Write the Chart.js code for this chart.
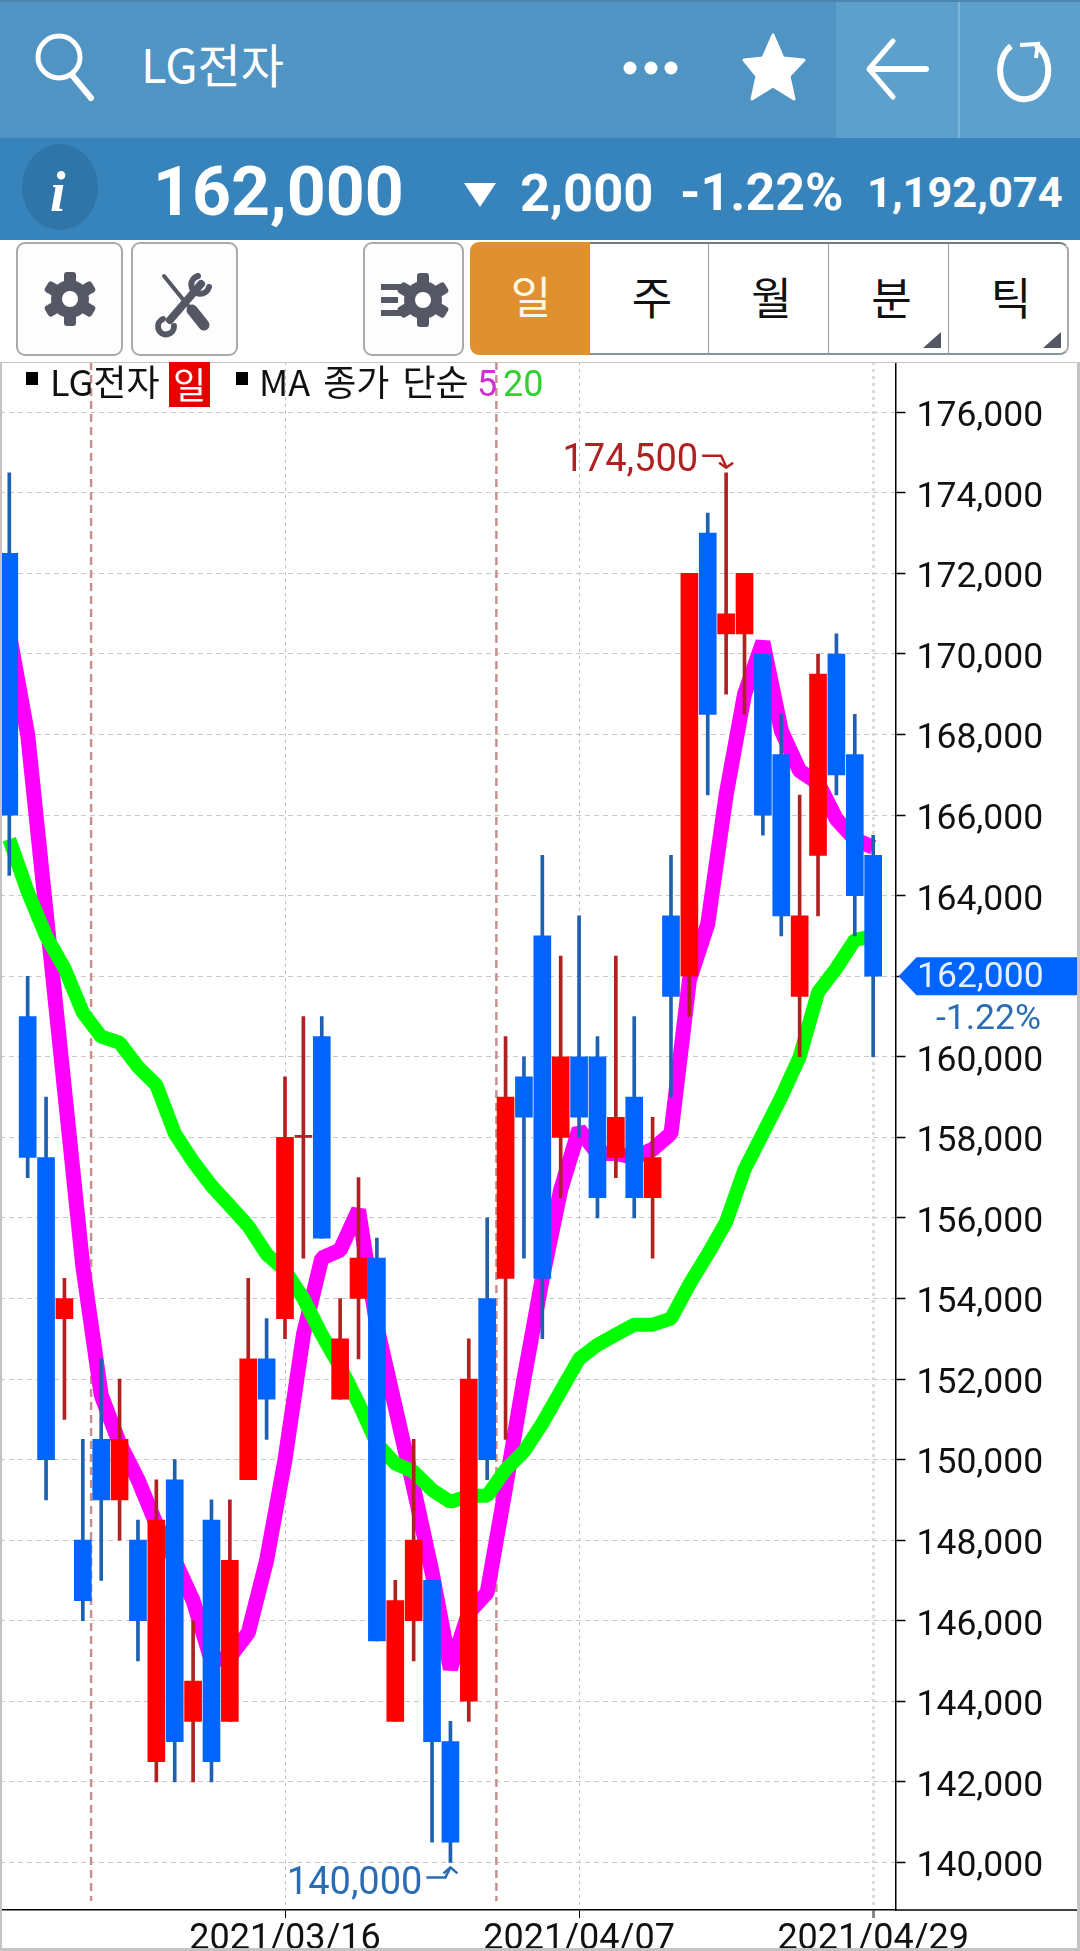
<!DOCTYPE html>
<html>
<head>
<meta charset="utf-8">
<style>
  html, body { margin: 0; padding: 0; background: #fff; }
  body { position: relative; width: 1080px; height: 1951px; overflow: hidden; font-family: Roboto, 'Noto Sans CJK KR', sans-serif; }
  .abs { position: absolute; white-space: nowrap; line-height: 1; }
  .kr { font-family: 'Noto Sans CJK KR', sans-serif; }
  .btn { position: absolute; top: 242px; height: 110px; box-sizing: content-box; border: 2px solid #aaa; border-radius: 9px; background: #fdfdfd; }
  .tab { position: absolute; top: 242px; height: 113px; box-sizing: border-box; padding-left: 6px; border-top: 2px solid #6f7a84; border-bottom: 2px solid #8a939b; border-right: 1px solid #9a9a9a; text-align: center; font: 44px/104px 'Noto Sans CJK KR', sans-serif; color: #111; background: #fff; }
  canvas { position: absolute; left: 0; top: 362px; }
</style>
<script src="https://cdn.jsdelivr.net/npm/chart.js@4/dist/chart.umd.min.js"></script>
</head>
<body>

<!-- header bars -->
<div class="abs" style="left:0;top:0;width:1080px;height:138px;background:#5094c4;border-top:2px solid #4a86b0;box-sizing:border-box"></div>
<div class="abs" style="left:836px;top:2px;width:244px;height:136px;background:#5da0cb"></div>
<div class="abs" style="left:958px;top:2px;width:2px;height:136px;background:#7fb5d8"></div>
<div class="abs" style="left:0;top:138px;width:1080px;height:102px;background:#3784bc"></div>

<svg class="abs" style="left:0;top:0" width="1080" height="240">
  <circle cx="59" cy="57" r="21" fill="none" stroke="#fff" stroke-width="5"/>
  <line x1="72" y1="75" x2="91" y2="98" stroke="#fff" stroke-width="6" stroke-linecap="round"/>
  <circle cx="630" cy="68" r="6.5" fill="#fff"/>
  <circle cx="651" cy="68" r="6.5" fill="#fff"/>
  <circle cx="671" cy="68" r="6.5" fill="#fff"/>
  <polygon points="773,35 783,58 804,60 789,76 794,99 773,86 752,99 757,76 744,60 763,58" fill="#fff" stroke="#fff" stroke-width="3" stroke-linejoin="round"/>
  <polyline points="893,41 869,69 893,97" fill="none" stroke="#fff" stroke-width="5" stroke-linecap="round" stroke-linejoin="round"/>
  <line x1="870" y1="69" x2="926" y2="69" stroke="#fff" stroke-width="6" stroke-linecap="round"/>
  <path d="M1011,46 A24,29 0 1 0 1036,45" fill="none" stroke="#fff" stroke-width="6"/>
  <polyline points="1020,45 1038,44 1036,58" fill="none" stroke="#fff" stroke-width="4"/>
  <ellipse cx="60" cy="187" rx="38" ry="43" fill="#2f75a8"/>
  <polygon points="464,183 496,183 480,207" fill="#fff"/>
</svg>

<div class="abs kr" style="left:141px;top:39px;font-size:47px;color:#fff" id="title">LG전자</div>
<div class="abs" style="left:50px;top:160px;font:italic bold 56px 'Liberation Serif',serif;color:#fff">i</div>
<div class="abs" style="left:153px;top:158px;font-size:68px;font-weight:700;color:#fff">162,000</div>
<div class="abs" style="left:520px;top:167px;font-size:52.5px;font-weight:700;color:#fff">2,000</div>
<div class="abs" style="left:680px;top:167px;font-size:52px;font-weight:700;color:#fff">-1.22%</div>
<div class="abs" style="left:867px;top:171px;font-size:43.4px;font-weight:700;color:#fff">1,192,074</div>

<!-- toolbar -->
<div class="btn" style="left:16px;width:103px"></div>
<div class="btn" style="left:131px;width:103px"></div>
<div class="btn" style="left:363px;width:97px"></div>
<div class="tab" style="left:470px;width:120px;background:#e0902f;color:#fff7e0;border:0;border-radius:9px 0 0 9px;line-height:106px;padding-left:2px">일</div>
<div class="tab" style="left:590px;width:119px">주</div>
<div class="tab" style="left:709px;width:120px">월</div>
<div class="tab" style="left:829px;width:120px">분</div>
<div class="tab" style="left:949px;width:120px;border-radius:0 9px 9px 0;border-right:2px solid #aaa">틱</div>

<svg class="abs" style="left:0;top:240px" width="1080" height="122">
  <defs>
    <g id="gear">
      <g fill="#555765">
        <rect x="-6" y="-27" width="12" height="54" rx="3"/>
        <rect x="-6" y="-27" width="12" height="54" rx="3" transform="rotate(60)"/>
        <rect x="-6" y="-27" width="12" height="54" rx="3" transform="rotate(120)"/>
        <circle r="19"/>
      </g>
      <circle r="8" fill="#fff"/>
    </g>
  </defs>
  <use href="#gear" x="70" y="59"/>
  <use href="#gear" x="423" y="60"/>
  <g fill="#555765">
    <rect x="381" y="44" width="21" height="6"/>
    <rect x="381" y="57" width="17" height="6"/>
    <rect x="381" y="70" width="21" height="6"/>
    <polygon points="923,108 941,92 941,108"/>
    <polygon points="1043,108 1061,92 1061,108"/>
  </g>
  <g fill="none" stroke="#555765" stroke-linecap="round">
    <line x1="164" y1="36" x2="203" y2="84" stroke-width="4"/>
    <line x1="192" y1="70" x2="204" y2="85" stroke-width="11"/>
    <line x1="201" y1="44" x2="170" y2="80" stroke-width="8"/>
    <path d="M198,36 a9,9 0 1 0 11,11" stroke-width="6"/>
    <path d="M174,86 a8,8 0 1 1 -11,-7" stroke-width="6"/>
  </g>
</svg>

<canvas id="chart" width="1080" height="1589"></canvas>

<!-- frame of the chart panel -->
<div class="abs" style="left:0;top:362px;width:1080px;height:1589px;box-sizing:border-box;border:solid #c4c4c4;border-width:1px 3px 3px 2px;pointer-events:none"></div>

<!-- chart legend -->
<div class="abs" style="left:26px;top:372px;width:12px;height:13px;background:#000"></div>
<div class="abs kr" style="left:50px;top:362px;font-size:36px;color:#111">LG전자</div>
<div class="abs kr" style="left:169px;top:362px;width:41px;height:45px;background:#e60000;color:#fff;font-size:36px;line-height:43px;text-align:center">일</div>
<div class="abs" style="left:236px;top:372px;width:12px;height:13px;background:#000"></div>
<div class="abs kr" style="left:259px;top:362px;font-size:36px;color:#111;word-spacing:5px">MA 종가 단순</div>
<div class="abs" style="left:477px;top:366px;font-size:36px;color:#d030d0">5</div>
<div class="abs" style="left:503px;top:366px;font-size:36px;color:#30d030">20</div>

<script>
var dates = ['2021/02/22','2021/02/23','2021/02/24','2021/02/25','2021/02/26','2021/03/02','2021/03/03','2021/03/04',
  '2021/03/05','2021/03/08','2021/03/09','2021/03/10','2021/03/11','2021/03/12','2021/03/15','2021/03/16',
  '2021/03/17','2021/03/18','2021/03/19','2021/03/22','2021/03/23','2021/03/24','2021/03/25','2021/03/26',
  '2021/03/29','2021/03/30','2021/03/31','2021/04/01','2021/04/02','2021/04/05','2021/04/06','2021/04/07',
  '2021/04/08','2021/04/09','2021/04/12','2021/04/13','2021/04/14','2021/04/15','2021/04/16','2021/04/19',
  '2021/04/20','2021/04/21','2021/04/22','2021/04/23','2021/04/26','2021/04/27','2021/04/28','2021/04/29'];

var opens = [172500,161000,157500,153500,148000,150500,149000,148000,142500,149500,143500,148500,143500,149500,152500,153500,
  158000,160500,151500,154000,155000,143500,146000,147000,143000,144000,154000,154500,159500,163000,158000,160000,
  160000,157500,159000,156500,163500,162000,173000,170500,170500,170000,167500,161500,165000,170000,167500,165000];
var highs = [174500,162000,159000,154500,150500,152500,152000,148500,149500,150000,146000,149000,149000,154500,153500,159500,
  161000,161000,154000,157000,155500,147000,150500,147000,143500,153000,156000,160500,160000,165000,162500,163500,
  160500,162500,161000,158500,165000,172000,173500,174500,172000,170000,168500,166500,170000,170500,168500,165500];
var lows = [164500,157000,149000,151000,146000,147000,148000,145000,142000,142000,142000,142000,143500,149500,150500,153000,
  155000,155500,151500,152500,145500,143500,145000,140500,140000,143500,149500,150500,155000,153000,156500,158000,
  156000,157000,156000,155000,159000,161000,166500,169000,168500,165500,163000,160000,163500,166500,163000,160000];
var closes = [166000,157500,150000,154000,146500,149000,150500,146000,148500,143000,144500,142500,147500,152500,151500,158000,
  158000,155500,153000,155000,145500,146500,148000,143000,140500,152000,150000,159000,158500,154500,160000,158500,
  156500,158500,156500,157500,161500,172000,168500,171000,172000,166000,163500,163500,169500,167000,164000,162000];

var ma5 = [170500,168000,163600,159200,154800,151600,150400,149500,148400,147500,146500,145000,145100,145700,147500,150000,
  153100,155000,155200,156200,153300,151300,149300,147200,144800,146200,146700,149300,152000,154500,156700,158200,
  157600,157600,157500,157700,158100,161900,163300,166500,169000,170300,168100,167100,166800,165900,165400,165200];
var ma20 = [165400,164100,163000,162200,161100,160500,160350,159750,159300,158100,157400,156800,156300,155800,155100,154700,
  154000,153100,152300,151400,150400,149900,149700,149250,148950,149100,149100,149750,150200,150900,151700,152500,
  152850,153100,153350,153350,153500,154350,155100,155900,157200,158100,159000,160000,161600,162200,162900,163000];

var yTicks = [140000,142000,144000,146000,148000,150000,152000,154000,156000,158000,160000,162000,164000,166000,168000,170000,172000,174000,176000];
var xTicks = [15,31,47];
var monthBreaks = [4.45,26.5];
var yMin = 138818, yMax = 177249;
var xMin = -0.506, xMax = 48.215;

var lastPrice = '162,000', lastChange = '-1.22%';

var RED = '#ff0000', BLUE = '#0064ff', WICK_RED = '#b02222', WICK_BLUE = '#2060b0';

function isUp(i) { return closes[i] >= opens[i]; }

var wicks = dates.map(function (d, i) { return { x: i, y: [lows[i], highs[i]] }; });
var bodies = dates.map(function (d, i) { return { x: i, y: [opens[i], closes[i]] }; });
var ma5Points = ma5.map(function (v, i) { return { x: i, y: v }; });
var ma20Points = ma20.map(function (v, i) { return { x: i, y: v }; });

// red month lines behind the candles, high/low notes and the price tag on top
var notes = {
  id: 'notes',
  beforeDatasetsDraw: function (chart) {
    var c = chart.ctx, a = chart.chartArea, xs = chart.scales.x;
    c.save();
    c.strokeStyle = '#c99090';
    c.lineWidth = 2.5;
    c.setLineDash([8, 5]);
    monthBreaks.forEach(function (v) {
      var px = xs.getPixelForValue(v);
      c.beginPath(); c.moveTo(px, a.top); c.lineTo(px, a.bottom - 9); c.stroke();
    });
    c.restore();
  },
  afterDraw: function (chart) {
    var c = chart.ctx, a = chart.chartArea, xs = chart.scales.x, ys = chart.scales.y;
    c.save();
    // x axis line runs on under the price scale
    c.strokeStyle = '#000'; c.lineWidth = 1.5;
    c.beginPath(); c.moveTo(a.right, a.bottom); c.lineTo(chart.width - 3, a.bottom); c.stroke();

    var hi = Math.max.apply(null, highs), lo = Math.min.apply(null, lows);
    var hx = xs.getPixelForValue(highs.lastIndexOf(hi)), hy = ys.getPixelForValue(hi);
    var lx = xs.getPixelForValue(lows.indexOf(lo)), ly = ys.getPixelForValue(lo);
    c.font = '38px Roboto';
    c.textAlign = 'right'; c.textBaseline = 'middle';
    c.lineWidth = 2.5;

    c.fillStyle = c.strokeStyle = '#b02222';
    c.fillText(hi.toLocaleString('en-US'), hx - 28, hy - 11);
    c.beginPath(); c.moveTo(hx - 24, hy - 17); c.lineTo(hx - 5, hy - 17); c.lineTo(hx, hy - 6); c.stroke();
    c.beginPath(); c.moveTo(hx - 7, hy - 10); c.lineTo(hx, hy - 5); c.lineTo(hx + 7, hy - 10); c.stroke();

    c.fillStyle = c.strokeStyle = '#2a6db5';
    c.fillText(lo.toLocaleString('en-US'), lx - 28, ly + 22);
    c.beginPath(); c.moveTo(lx - 24, ly + 15); c.lineTo(lx - 5, ly + 15); c.lineTo(lx, ly + 5); c.stroke();
    c.beginPath(); c.moveTo(lx - 7, ly + 11); c.lineTo(lx, ly + 5); c.lineTo(lx + 7, ly + 11); c.stroke();

    // last price tag
    var py = ys.getPixelForValue(closes[closes.length - 1]);
    c.fillStyle = BLUE;
    c.beginPath();
    c.moveTo(a.right + 3, py);
    c.lineTo(a.right + 21, py - 19);
    c.lineTo(chart.width - 3, py - 19);
    c.lineTo(chart.width - 3, py + 19);
    c.lineTo(a.right + 21, py + 19);
    c.closePath(); c.fill();
    c.textAlign = 'left';
    c.font = '35.5px Roboto';
    c.fillStyle = '#e4f0ff';
    c.fillText(lastPrice, 917, py + 2);
    c.textAlign = 'right';
    c.font = '35.5px Roboto';
    c.fillStyle = '#2a6db5';
    c.fillText(lastChange, 1041, py + 44);
    c.restore();
  }
};

// the price labels sit a little lower on their grid lines than Chart.js puts them
function lowerLabels(scale, dy) {
  if (scale.labelsLowered) return;
  scale.labelsLowered = true;
  var base = scale._computeLabelItems;
  scale._computeLabelItems = function (area) {
    var items = base.call(scale, area);
    items.forEach(function (it) { it.options.translation[1] += dy; });
    return items;
  };
}

var ctx = document.getElementById('chart').getContext('2d');
var myChart = new Chart(ctx, {
  type: 'bar',
  data: {
    datasets: [
      { label: 'MA5', type: 'line', data: ma5Points, borderColor: '#ff00ff', borderWidth: 15, pointRadius: 0, tension: 0, borderJoinStyle: 'bevel', order: 4 },
      { label: 'MA20', type: 'line', data: ma20Points, borderColor: '#00ff00', borderWidth: 14, pointRadius: 0, tension: 0, borderJoinStyle: 'bevel', order: 3 },
      {
        label: 'wick', data: wicks, barThickness: 3, grouped: false, order: 2,
        backgroundColor: dates.map(function (d, i) { return isUp(i) ? WICK_RED : WICK_BLUE; })
      },
      {
        label: 'body', data: bodies, barThickness: 17, grouped: false, minBarLength: 2, order: 1,
        backgroundColor: dates.map(function (d, i) {
          if (opens[i] === closes[i]) return WICK_RED;
          return isUp(i) ? RED : BLUE;
        })
      }
    ]
  },
  options: {
    responsive: false,
    animation: false,
    layout: { padding: 0 },
    plugins: { legend: { display: false }, tooltip: { enabled: false } },
    scales: {
      x: {
        type: 'linear',
        min: xMin,
        max: xMax,
        offset: false,
        grid: {
          offset: false,
          color: function (c) { return c.index === 2 ? '#dcdcdc' : '#bdbdbd'; },
          lineWidth: function (c) { return c.index === 2 ? 3 : 1; },
          tickColor: function (c) { return c.index === 2 ? '#888' : '#000'; },
          tickLength: 8
        },
        border: { color: '#000', width: 1.5, dash: [3, 4] },
        afterBuildTicks: function (scale) { scale.ticks = xTicks.map(function (v) { return { value: v }; }); },
        afterFit: function (scale) { scale.height = 41; scale.paddingLeft = 0; scale.paddingRight = 0; },
        ticks: {
          font: { family: 'Roboto', size: 36 }, color: '#111', padding: 0, maxRotation: 0, autoSkip: false,
          callback: function (v) { return dates[v]; }
        }
      },
      y: {
        position: 'right',
        min: yMin,
        max: yMax,
        grid: { color: '#c8c8c8', lineWidth: 1, tickColor: '#000', tickWidth: 1.5, tickLength: 10, tickBorderDash: [] },
        border: { color: '#000', width: 1.5, dash: [5, 4] },
        afterBuildTicks: function (scale) { scale.ticks = yTicks.map(function (v) { return { value: v }; }); },
        afterFit: function (scale) {
          scale.width = 184.5; scale.paddingTop = 0; scale.paddingBottom = 0;
          lowerLabels(scale, 5);
        },
        ticks: {
          font: { family: 'Roboto', size: 35.5 }, color: '#111', padding: 11,
          callback: function (v) { return v.toLocaleString('en-US'); }
        }
      }
    }
  },
  plugins: [notes]
});
</script>
</body>
</html>
